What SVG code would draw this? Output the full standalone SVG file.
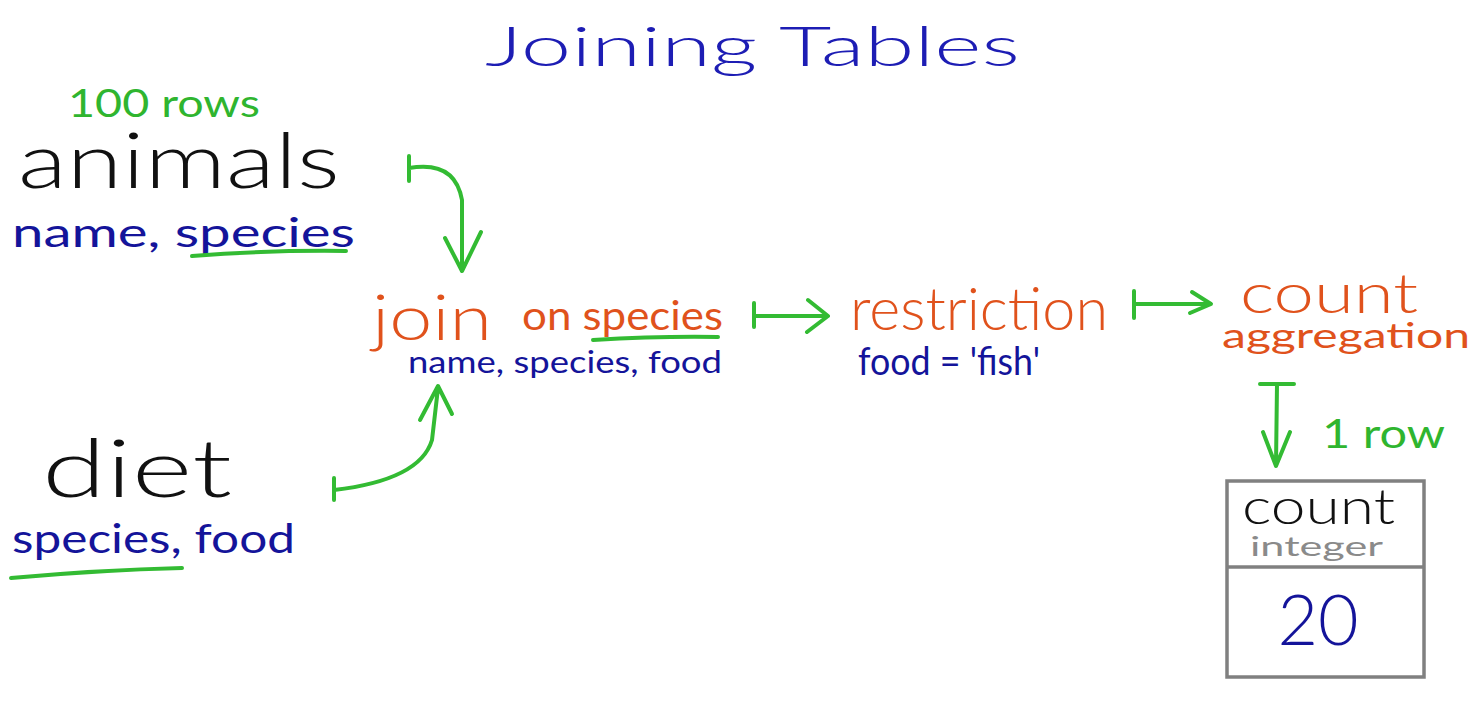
<svg xmlns="http://www.w3.org/2000/svg" width="1484" height="717" viewBox="0 0 1484 717">
<style>
text{font-family:"Lato","Open Sans","DejaVu Sans",sans-serif;}
.title{fill:#1d1db4;font-size:56px;font-weight:300;}
.blk{fill:#111;font-weight:300;}
.grn{fill:#2fb52f;}
.org{fill:#e0521c;}
.blu{fill:#14149a;}
.gry{fill:#8a8a8a;}
.ln{stroke:#33bb33;stroke-width:4;fill:none;stroke-linecap:round;stroke-linejoin:round;}
</style>
<rect width="1484" height="717" fill="#fff"/>
<g id="title"><text class="title" x="485" y="66" textLength="535" lengthAdjust="spacingAndGlyphs">Joining Tables</text></g>
<g id="animals">
<text class="grn" x="68" y="117" font-size="38" textLength="192" lengthAdjust="spacingAndGlyphs">100 rows</text>
<text class="blk" x="18" y="188" font-size="76" textLength="322" lengthAdjust="spacingAndGlyphs">animals</text>
<text class="blu" x="12" y="247" font-size="40" textLength="343" lengthAdjust="spacingAndGlyphs">name, species</text>
<path class="ln" d="M192 256 Q270 250 346 251"/>
</g>
<g id="diet">
<text class="blk" x="42" y="497" font-size="80" textLength="190" lengthAdjust="spacingAndGlyphs">diet</text>
<text class="blu" x="12" y="553" font-size="40" textLength="283" lengthAdjust="spacingAndGlyphs">species, food</text>
<path class="ln" d="M11 578 Q100 570 182 568"/>
</g>
<g id="join">
<text class="org" x="372" y="340" font-size="64" font-weight="300" textLength="120" lengthAdjust="spacingAndGlyphs">join</text>
<text class="org" x="522" y="330" font-size="40" textLength="201" lengthAdjust="spacingAndGlyphs">on species</text>
<path class="ln" d="M593 340 Q660 336 718 337"/>
<text class="blu" x="408" y="373" font-size="30" textLength="314" lengthAdjust="spacingAndGlyphs">name, species, food</text>
</g>
<g id="restriction">
<text class="org" x="850" y="330" font-size="60" font-weight="300" textLength="258" lengthAdjust="spacingAndGlyphs">restriction</text>
<text class="blu" x="858" y="375" font-size="38" textLength="182" lengthAdjust="spacingAndGlyphs">food = 'fish'</text>
</g>
<g id="count">
<text class="org" x="1240" y="313" font-size="56" font-weight="300" textLength="178" lengthAdjust="spacingAndGlyphs">count</text>
<text class="org" x="1222" y="348" font-size="34" textLength="248" lengthAdjust="spacingAndGlyphs">aggregation</text>
</g>
<g id="result">
<rect x="1227" y="481" width="197" height="196" fill="none" stroke="#808080" stroke-width="3.5"/>
<line x1="1227" y1="567" x2="1424" y2="567" stroke="#808080" stroke-width="3.5"/>
<text class="blk" x="1242" y="524" font-size="50" textLength="153" lengthAdjust="spacingAndGlyphs">count</text>
<text class="gry" x="1250" y="556" font-size="26" textLength="133" lengthAdjust="spacingAndGlyphs">integer</text>
<text class="blu" x="1318" y="645" font-size="70" font-weight="300" text-anchor="middle">20</text>
</g>
<g id="connectors">
<path class="ln" d="M409 156 L409 181 M409 168 Q455 160 462 200 L462 270 M445 238 L462 271 L481 232"/>
<path class="ln" d="M334 478 L334 500 M334 490 Q420 480 432 440 L438 388 M420 420 L438 386 L452 414"/>
<path class="ln" d="M754 303 L754 327 M754 316 L826 316 M808 300 L828 316 L807 332"/>
<path class="ln" d="M1134 291 L1134 318 M1134 304 L1210 304 M1192 292 L1211 304 L1190 313"/>
<path class="ln" d="M1260 384 L1294 384 M1277 384 L1276 465 M1263 432 L1276 466 L1290 432"/>
<text class="grn" x="1322" y="448" font-size="40" textLength="123" lengthAdjust="spacingAndGlyphs">1 row</text>
</g>
</svg>
